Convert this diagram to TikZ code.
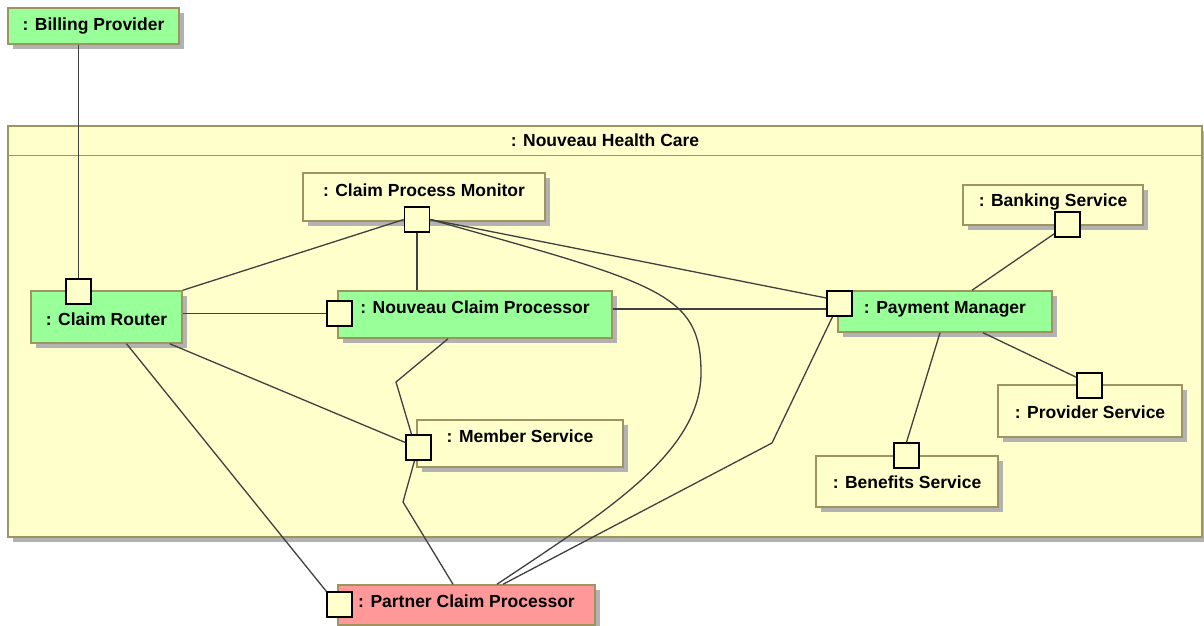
\documentclass[tikz,border=0pt]{standalone}
\usepackage{fontspec}
\setmainfont{Liberation Sans}
\usetikzlibrary{shadows}
\definecolor{partyellow}{RGB}{255,255,204}
\definecolor{partgreen}{RGB}{153,255,153}
\definecolor{partred}{RGB}{255,153,153}
\definecolor{partborder}{RGB}{158,148,96}
\definecolor{wiregray}{RGB}{64,64,64}
\tikzset{
    part/.style={draw=partborder, line width=1.5pt, fill=partyellow, inner sep=0pt,
        font=\bfseries\fontsize{17.5}{20}\selectfont, text height=13pt, text depth=0pt,
        drop shadow={shadow xshift=5pt, shadow yshift=-5pt, fill=black!30, opacity=1}},
    greenpart/.style={part, fill=partgreen},
    redpart/.style={part, fill=partred},
    port/.style={draw=black, line width=1.5pt, fill=partyellow, minimum size=25pt, inner sep=0pt},
    wire/.style={draw=wiregray, line width=1.3pt}
}

\begin{document}
\begin{tikzpicture}[x=1pt, y=-1pt]
        \useasboundingbox (0,0) rectangle (1204,626);

        \node[part, minimum width=1194pt, minimum height=411pt] (nhc) at (605,331.5) {};
        \draw[draw=partborder, line width=1.5pt] ([yshift=-30pt]nhc.north west) -- ([yshift=-30pt]nhc.north east);
        \node[font=\bfseries\fontsize{17.5}{20}\selectfont, text height=13pt, text depth=0pt, inner sep=0pt] (nhctitle) at ([yshift=-15pt]nhc.north) {: Nouveau Health Care};

        \node[greenpart, minimum width=171pt, minimum height=36pt, text depth=4pt] (billing) at (93.5,26) {: Billing Provider};
        \node[greenpart, minimum width=151pt, minimum height=52pt, text height=17pt] (cr) at (106.5,317) {: Claim Router};
        \node[part, minimum width=242pt, minimum height=48pt, text depth=14pt] (cpm) at (424,197) {: Claim Process Monitor};
        \node[greenpart, minimum width=274pt, minimum height=47pt, text depth=15pt] (ncp) at (475,314.5) {: Nouveau Claim Processor};
        \node[greenpart, minimum width=214pt, minimum height=41pt, text depth=9pt] (pm) at (945,311.5) {: Payment Manager};
        \node[part, minimum width=180pt, minimum height=40pt, text depth=10pt] (bank) at (1053,205) {: Banking Service};
        \node[part, minimum width=184pt, minimum height=52pt, text height=15pt] (prov) at (1090,411) {: Provider Service};
        \node[part, minimum width=182pt, minimum height=51pt, text height=14pt] (bene) at (907,481.5) {: Benefits Service};
        \node[part, minimum width=206pt, minimum height=47pt, text depth=15pt] (mem) at (520,443.5) {: Member Service};
        \node[redpart, minimum width=257pt, minimum height=40pt, text depth=8pt] (pcp) at (466.5,605) {: Partner Claim Processor};

        \node[port] (crp) at (78.5,291.5) {};
        \node[port] (cpmp) at (417,219.5) {};
        \node[port] (ncpp) at (339.5,313.5) {};
        \node[port] (pmp) at (839.5,303.5) {};
        \node[port] (bankp) at (1067.5,224.5) {};
        \node[port] (provp) at (1089.5,385.5) {};
        \node[port] (benep) at (906.5,455.5) {};
        \node[port] (memp) at (418.5,447.5) {};
        \node[port] (pcpp) at (339.5,604.5) {};

        \coordinate (pmup) at ([yshift=5.5pt]pmp.west);
        \coordinate (pmlow) at ([yshift=-5.5pt]pmp.west);

        \draw[wire] (crp.north |- billing.south) -- (crp.north);
        \draw[wire] (cr.north east) -- (cpmp.west);
        \draw[wire] (cr.east |- ncpp.west) -- (ncpp.west);
        \draw[wire] (cpmp.south) -- (ncp.north -| cpmp.south);
        \draw[wire] (cpmp.east) -- (pmup);
        \draw[wire] (ncp.east |- pmlow) -- (pmlow);
        \draw[wire] (cpmp.east) .. controls (660,284) and (701,293) .. (701,373)
                .. controls (701,453) and (605,512) .. ([xshift=30.5pt]pcp.north);
        \draw[wire] ([xshift=20pt]cr.south) -- (pcpp.north west);
        \draw[wire] ([xshift=-13pt]cr.south east) -- ([yshift=5pt]memp.west);
        \draw[wire] ([xshift=-27pt]ncp.south) -- (396,382) -- ([xshift=-7pt]memp.north);
        \draw[wire] ([xshift=-4pt]memp.south) -- (403,502) -- ([xshift=-13.5pt]pcp.north);
        \draw[wire] ([xshift=-7pt]pmp.south) -- (772,443) -- ([xshift=36.5pt]pcp.north);
        \draw[wire] ([xshift=27pt]pm.north) -- ([yshift=4pt]bankp.south west);
        \draw[wire] ([xshift=-5pt]pm.south) -- (benep.north);
        \draw[wire] ([xshift=38pt]pm.south) -- ([yshift=-5pt]provp.north west);
\end{tikzpicture}
\end{document}
